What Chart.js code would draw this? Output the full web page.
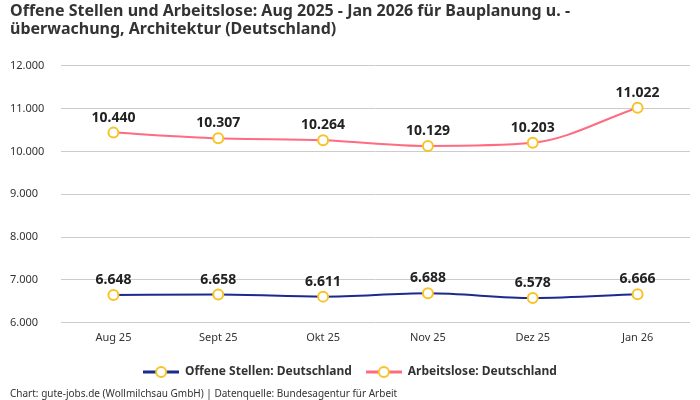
<!DOCTYPE html>
<html>
<head>
<meta charset="utf-8">
<script src="https://cdn.jsdelivr.net/npm/chart.js@4"></script>
<style>
html,body{margin:0;padding:0;background:#fff;}
#wrap{width:700px;height:400px;position:relative;}
</style>
</head>
<body>
<div id="wrap"><canvas id="c"></canvas></div>
<script>
const categories = ["Aug 25", "Sept 25", "Okt 25", "Nov 25", "Dez 25", "Jan 26"];
const offeneStellen = [6648, 6658, 6611, 6688, 6578, 6666];
const arbeitslose = [10440, 10307, 10264, 10129, 10203, 11022];
const seriesNames = ["Offene Stellen: Deutschland", "Arbeitslose: Deutschland"];
const titleLines = ["Offene Stellen und Arbeitslose: Aug 2025 - Jan 2026 für Bauplanung u. -", "überwachung, Architektur (Deutschland)"];
const footerText = "Chart: gute-jobs.de (Wollmilchsau GmbH) | Datenquelle: Bundesagentur für Arbeit";

const FONT = "'Noto Sans', 'DejaVu Sans', sans-serif";
const BLUE = "#1b2a8f";
const PINK = "#ff6b81";
const GOLD = "#f7c325";

function fmt(v){ return String(Math.round(v)).replace(/\B(?=(\d{3})+(?!\d))/g, "."); }

function legendIcon(color){
  const c = document.createElement('canvas');
  c.width = 36; c.height = 14;
  const x = c.getContext('2d');
  x.strokeStyle = color; x.lineWidth = 3;
  x.beginPath(); x.moveTo(0,7); x.lineTo(36,7); x.stroke();
  x.fillStyle = '#fff'; x.strokeStyle = GOLD; x.lineWidth = 2;
  x.beginPath(); x.arc(18,7,5,0,Math.PI*2); x.fill(); x.stroke();
  return c;
}

const labelPlugin = {
  id: 'valLabels',
  afterDatasetsDraw(chart){
    const ctx = chart.ctx;
    ctx.save();
    ctx.font = "bold 14px " + FONT;
    ctx.fillStyle = "#222";
    ctx.textAlign = "center";
    ctx.textBaseline = "middle";
    chart.data.datasets.forEach((ds, i) => {
      const meta = chart.getDatasetMeta(i);
      meta.data.forEach((pt, j) => {
        ctx.fillText(fmt(ds.data[j]), pt.x, pt.y - 15);
      });
    });
    ctx.restore();
  }
};

new Chart(document.getElementById('c'), {
  type: 'line',
  data: {
    labels: categories,
    datasets: [
      { label: seriesNames[0], data: offeneStellen, borderColor: BLUE, backgroundColor: BLUE,
        borderWidth: 2, cubicInterpolationMode: 'monotone', pointRadius: 5, pointBorderWidth: 2,
        pointBackgroundColor: '#fff', pointBorderColor: GOLD, pointStyle: 'circle' },
      { label: seriesNames[1], data: arbeitslose, borderColor: PINK, backgroundColor: PINK,
        borderWidth: 2, cubicInterpolationMode: 'monotone', pointRadius: 5, pointBorderWidth: 2,
        pointBackgroundColor: '#fff', pointBorderColor: GOLD, pointStyle: 'circle' }
    ]
  },
  options: {
    responsive: true,
    maintainAspectRatio: false,
    animation: false,
    layout: { padding: { left: 10, right: 10, top: 0, bottom: 0 } },
    plugins: {
      title: {
        display: true, text: titleLines, align: 'start', color: '#333',
        font: { family: FONT, size: 16, weight: 'bold', lineHeight: 1.15 },
        padding: { top: 2, bottom: 27 }
      },
      subtitle: {
        display: true, text: footerText, position: 'bottom', align: 'start', color: '#333',
        font: { family: FONT, size: 10 }, padding: { top: 0, bottom: 0 }
      },
      legend: {
        position: 'bottom',
        labels: {
          usePointStyle: true, pointStyleWidth: 36, color: '#333',
          font: { family: FONT, size: 12, weight: 'bold' }, padding: 14,
          generateLabels(chart){
            return chart.data.datasets.map((ds, i) => ({
              text: ds.label, pointStyle: legendIcon(ds.borderColor), datasetIndex: i,
              fillStyle: ds.borderColor, strokeStyle: ds.borderColor, lineWidth: 0, hidden: false,
              fontColor: '#333'
            }));
          }
        }
      },
      tooltip: { enabled: false }
    },
    scales: {
      x: {
        offset: true,
        grid: { display: false, drawTicks: false },
        border: { display: false },
        ticks: { color: '#333', font: { family: FONT, size: 11 }, padding: 8 }
      },
      y: {
        min: 6000, max: 12000,
        border: { display: false },
        grid: { color: '#cccccc', borderDash: [4, 4], drawTicks: false },
        ticks: {
          stepSize: 1000, color: '#333', font: { family: FONT, size: 11 },
          align: 'center', crossAlign: 'far', padding: 14,
          callback: v => fmt(v)
        },
        afterFit(scale){ scale.width = 51; }
      }
    }
  },
  plugins: [labelPlugin]
});
</script>
</body>
</html>
